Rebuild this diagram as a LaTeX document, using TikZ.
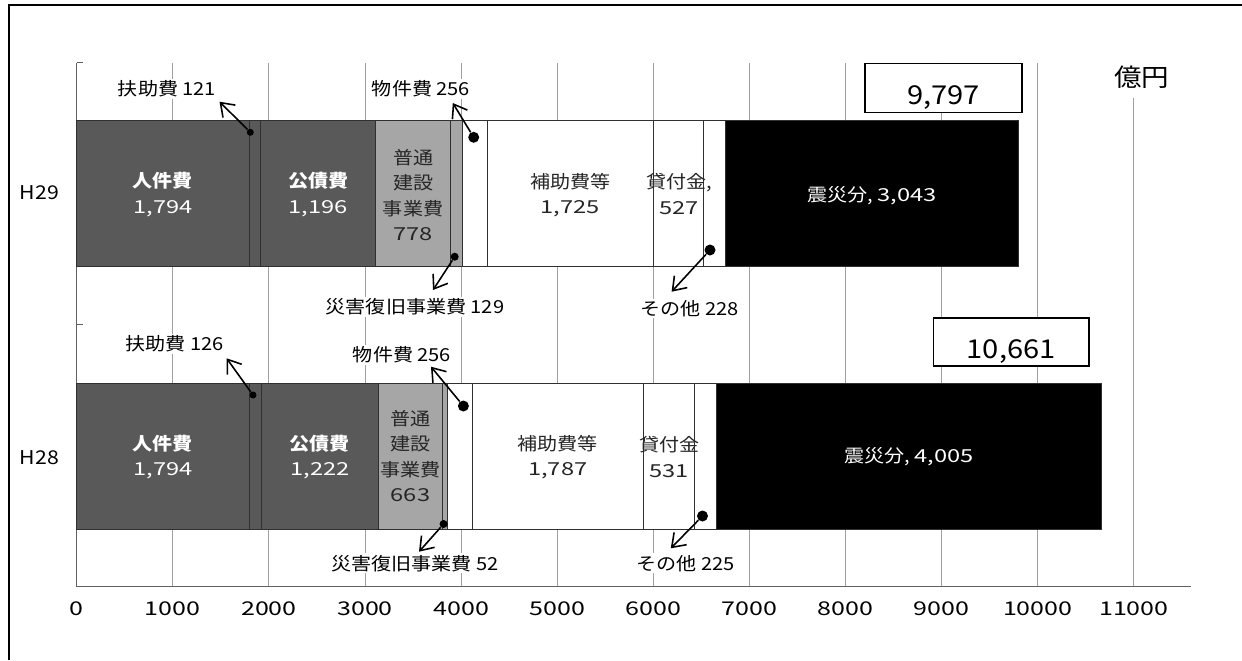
\documentclass[tikz,border=0pt]{standalone}
\usepackage{fontspec}
\setmainfont{Noto Sans CJK JP}[FakeStretch=1.12]
\newfontfamily\numfont{Noto Sans CJK JP}[FakeStretch=1.32]
\usetikzlibrary{arrows.meta}
\definecolor{darkseg}{HTML}{595959}
\definecolor{lightseg}{HTML}{A6A6A6}
\definecolor{gridc}{HTML}{A0A0A0}
\definecolor{axisc}{HTML}{606060}
\definecolor{segline}{HTML}{303030}
\newcommand\mysegfont{\fontsize{10.2pt}{14.5pt}\selectfont}
\newcommand\mytotfont{\fontsize{14.8pt}{17pt}\selectfont}
\newcommand\myunitfont{\fontsize{14pt}{16pt}\selectfont}
\newcommand\mytickfont{\fontsize{10.8pt}{13pt}\selectfont\numfont}
\newcommand\mycatfont{\fontsize{10.8pt}{13pt}\selectfont}
\tikzset{
  seg/.style={draw=segline, line width=0.5pt},
  darkbar/.style={seg, fill=darkseg},
  lightbar/.style={seg, fill=lightseg},
  whitebar/.style={seg, fill=white},
  blackbar/.style={seg, fill=black},
  seglabel/.style={align=center, font=\mysegfont, inner sep=0pt},
  inwhite/.style={seglabel, text=white},
  indark/.style={seglabel, text=black!85},
  annlabel/.style={font=\mysegfont, fill=white, inner sep=1pt},
  annarrow/.style={-{Straight Barb[length=7pt,width=10pt,line width=0.9pt]}, line width=0.9pt},
  dotsmall/.style={circle, fill=black, inner sep=0pt, minimum size=0.14cm},
  dotmid/.style={circle, fill=black, inner sep=0pt, minimum size=0.16cm},
  dotbig/.style={circle, fill=black, inner sep=0pt, minimum size=0.22cm},
  totbox/.style={draw=black, line width=0.9pt, fill=white, font=\mytotfont, inner sep=0pt, text height=0.66cm, text depth=0cm},
  gridline/.style={draw=gridc, line width=0.5pt},
  axisline/.style={draw=axisc, line width=0.8pt},
  ticklabel/.style={font=\mytickfont, inner sep=0pt},
  catlabel/.style={font=\mycatfont, inner sep=0pt},
}
\begin{document}
\begin{tikzpicture}[x=0.02cm,y=-0.02cm]
\useasboundingbox (0,0) rectangle (1242,660);
% outer frame
\draw[line width=1.1pt] (9,660) -- (9,5) -- (1242,5);

\begin{scope}[xshift=1.534cm, x=0.0019272cm]
  % grid
  \foreach \v in {1000,2000,...,10000} \draw[gridline] (\v,62.7) -- (\v,586.7);
  \draw[gridline] (11000,98) -- (11000,586.7);
  % axes
  \draw[axisline] (0,62.7) -- (0,586.7) -- (11598,586.7);
  \draw[axisline] (0,62.7) -- (68.5,62.7);
  \draw[axisline] (0,324.7) -- (68.5,324.7);
  % tick labels
  \foreach \v in {0,1000,2000,...,11000} \node[ticklabel] (t\v) at (\v,609) {\v};

  % H29 bar
  \draw[darkbar]  (0,120.7) rectangle (1794,266.7);
  \draw[darkbar]  (1794,120.7) rectangle (1915,266.7);
  \draw[darkbar]  (1915,120.7) rectangle (3111,266.7);
  \draw[lightbar] (3111,120.7) rectangle (3889,266.7);
  \draw[lightbar] (3889,120.7) rectangle (4018,266.7);
  \draw[whitebar] (4018,120.7) rectangle (4274,266.7);
  \draw[whitebar] (4274,120.7) rectangle (5999,266.7);
  \draw[whitebar] (5999,120.7) rectangle (6526,266.7);
  \draw[whitebar] (6526,120.7) rectangle (6754,266.7);
  \draw[blackbar] (6754,120.7) rectangle (9797,266.7);

  % H28 bar
  \draw[darkbar]  (0,383.3) rectangle (1794,529.3);
  \draw[darkbar]  (1794,383.3) rectangle (1920,529.3);
  \draw[darkbar]  (1920,383.3) rectangle (3142,529.3);
  \draw[lightbar] (3142,383.3) rectangle (3805,529.3);
  \draw[lightbar] (3805,383.3) rectangle (3857,529.3);
  \draw[whitebar] (3857,383.3) rectangle (4113,529.3);
  \draw[whitebar] (4113,383.3) rectangle (5900,529.3);
  \draw[whitebar] (5900,383.3) rectangle (6431,529.3);
  \draw[whitebar] (6431,383.3) rectangle (6656,529.3);
  \draw[blackbar] (6656,383.3) rectangle (10661,529.3);

  % H29 segment labels
  \node[inwhite] (a29jin) at (897,194.5) {{\bfseries 人件費}\\{\numfont 1,794}};
  \node[inwhite] (a29kou) at (2513,194.5) {{\bfseries 公債費}\\{\numfont 1,196}};
  \node[indark]  (a29fut) at (3500,195) {普通\\建設\\事業費\\{\numfont 778}};
  \node[indark]  (a29hoj) at (5136,195) {補助費等\\{\numfont 1,725}};
  \node[indark]  (a29kas) at (6270,194) {貸付金,\\{\numfont 527}};
  \node[inwhite] (a29shin) at (8275,195.7) {震災分, {\numfont 3,043}};

  % H28 segment labels
  \node[inwhite] (a28jin) at (897,457) {{\bfseries 人件費}\\{\numfont 1,794}};
  \node[inwhite] (a28kou) at (2531,457) {{\bfseries 公債費}\\{\numfont 1,222}};
  \node[indark]  (a28fut) at (3473,456) {普通\\建設\\事業費\\{\numfont 663}};
  \node[indark]  (a28hoj) at (5006,457) {補助費等\\{\numfont 1,787}};
  \node[indark]  (a28kas) at (6165,457) {貸付金\\{\numfont 531}};
  \node[inwhite] (a28shin) at (8658,456.7) {震災分, {\numfont 4,005}};
\end{scope}

% category labels
\node[catlabel] (h29) at (39.5,193) {H29};
\node[catlabel] (h28) at (39.5,458) {H28};

% annotation labels H29
\node[annlabel] (l29fu)  at (167,89)    {扶助費 121};
\node[annlabel] (l29bu)  at (421,89)    {物件費 256};
\node[annlabel] (l29sai) at (415,306.7) {災害復旧事業費 129};
\node[annlabel] (l29so)  at (689.5,308.5) {その他 228};
% annotation labels H28
\node[annlabel] (l28fu)  at (174.5,344) {扶助費 126};
\node[annlabel] (l28bu)  at (402,355)   {物件費 256};
\node[annlabel] (l28sai) at (415,563.3) {災害復旧事業費 52};
\node[annlabel] (l28so)  at (685.5,563.3) {その他 225};

% dots and arrow tips H29
\node[dotsmall] (d29fu)  at (250.3,132.3) {};
\node[dotbig]   (d29bu)  at (473.7,137.3) {};
\node[dotmid]   (d29sai) at (454.7,256.7) {};
\node[dotbig]   (d29so)  at (710,250) {};
\coordinate (p29fu)  at (219.5,101.7);
\coordinate (p29bu)  at (452.8,103);
\coordinate (p29sai) at (433,290);
\coordinate (p29so)  at (671.6,291.7);
\draw[annarrow] (d29fu) -- (p29fu);
\draw[annarrow] (d29bu) -- (p29bu);
\draw[annarrow] (d29sai) -- (p29sai);
\draw[annarrow] (d29so) -- (p29so);

% dots and arrow tips H28
\node[dotsmall] (d28fu)  at (253,395) {};
\node[dotbig]   (d28bu)  at (463.4,406) {};
\node[dotmid]   (d28sai) at (443.6,524) {};
\node[dotbig]   (d28so)  at (702.5,516) {};
\coordinate (p28fu)  at (226.6,358.3);
\coordinate (p28bu)  at (431,366.7);
\coordinate (p28sai) at (419,551.7);
\coordinate (p28so)  at (670.8,548.3);
\draw[annarrow] (d28fu) -- (p28fu);
\draw[annarrow] (d28bu) -- (p28bu);
\draw[annarrow] (d28sai) -- (p28sai);
\draw[annarrow] (d28so) -- (p28so);

% totals
\node[totbox, minimum width=3.136cm, minimum height=0.988cm] (tot29) at (943.4,88) {9,797};
\node[totbox, minimum width=3.112cm, minimum height=0.96cm] (tot28) at (1011.2,342) {10,661};

% unit
\node[font=\myunitfont, inner sep=0pt] (unit) at (1141.6,77.3) {億円};
\end{tikzpicture}
\end{document}
